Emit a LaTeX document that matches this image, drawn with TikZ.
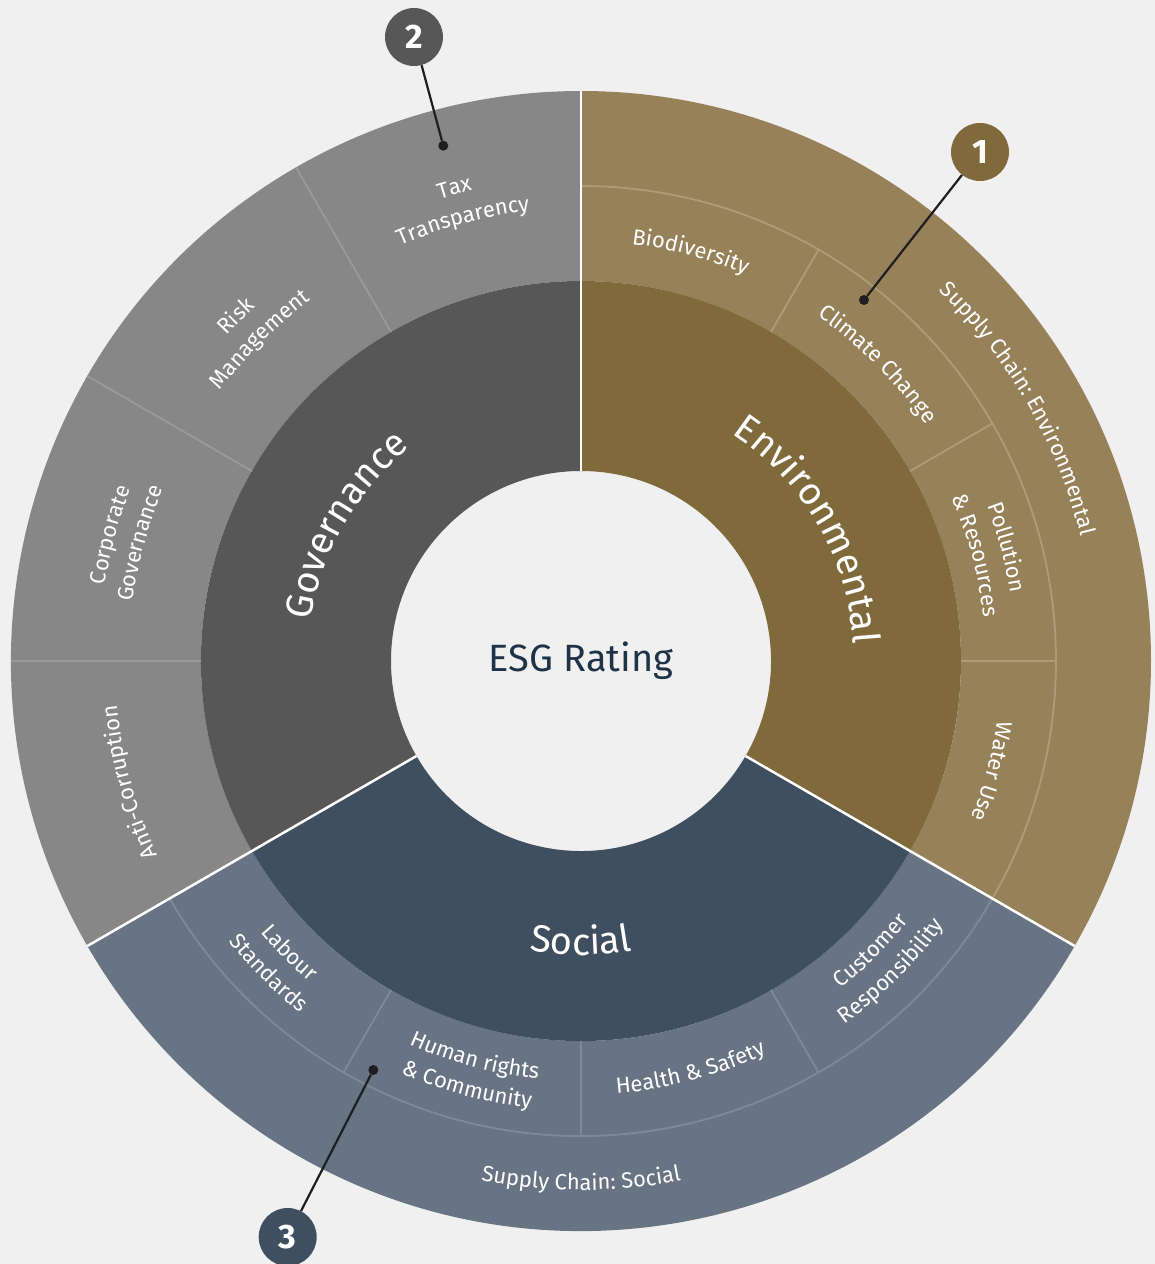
\documentclass[tikz,border=0pt]{standalone}
\usepackage{fontspec}
\setmainfont{Fira Sans}
\usetikzlibrary{decorations.text}
\definecolor{bgc}{HTML}{F0F0F0}
\definecolor{govD}{HTML}{575757}
\definecolor{govL}{HTML}{878787}
\definecolor{envD}{HTML}{806A3C}
\definecolor{envL}{HTML}{978159}
\definecolor{socD}{HTML}{404F60}
\definecolor{socL}{HTML}{687384}
\definecolor{govLine}{HTML}{9A9A9A}
\definecolor{envLine}{HTML}{AE9B78}
\definecolor{socLine}{HTML}{7F8998}
\definecolor{centerc}{HTML}{1E3347}
\definecolor{lineK}{HTML}{1E1E1E}
\newcommand\annsec[5]{\fill[#5] (#1:#3) arc[start angle=#1,end angle=#2,radius=#3] -- (#2:#4) arc[start angle=#2,end angle=#1,radius=#4] -- cycle;}
\newcommand\ringtext[5]{\path[decorate,decoration={text along path,text align=center,text={|#4|#5}}] (#2:#1) arc[start angle=#2,end angle=#3,radius=#1];}
\newcommand\smallf{\fontsize{22}{26}\selectfont\color{white}}
\newcommand\bigf{\fontsize{38}{44}\selectfont\color{white}}
\tikzset{
  badge/.style={circle,minimum size=58pt,inner sep=0pt,text=white,font=\fontsize{34}{34}\selectfont\bfseries},
  dotc/.style={circle,fill=lineK,minimum size=10pt,inner sep=0pt},
  conn/.style={draw=lineK,line width=2.2pt},
  sepline/.style={draw=white,line width=2.5pt},
  govsep/.style={draw=govLine,line width=1.8pt},
  envsep/.style={draw=envLine,line width=1.8pt},
  socsep/.style={draw=socLine,line width=1.8pt}
}
\begin{document}
\begin{tikzpicture}[x=1pt,y=1pt]
\fill[bgc] (-581,-603) rectangle (574,661);
\useasboundingbox (-581,-603) rectangle (574,661);
% outer rings
\annsec{90}{210}{380pt}{570pt}{govL}
\annsec{-30}{90}{380pt}{570pt}{envL}
\annsec{-150}{-30}{380pt}{570pt}{socL}
% middle ring
\annsec{90}{210}{190pt}{380pt}{govD}
\annsec{-30}{90}{190pt}{380pt}{envD}
\annsec{-150}{-30}{190pt}{380pt}{socD}
% light dividers
\foreach \a in {120,150,180} {\draw[govsep] (\a:380pt) -- (\a:570pt);}
\foreach \a in {60,30,0} {\draw[envsep] (\a:380pt) -- (\a:475pt);}
\draw[envsep] (90:475pt) arc[start angle=90,end angle=-30,radius=475pt];
\foreach \a in {-60,-90,-120} {\draw[socsep] (\a:380pt) -- (\a:475pt);}
\draw[socsep] (-30:475pt) arc[start angle=-30,end angle=-150,radius=475pt];
% white separators
\foreach \a in {90,-30,210} {\draw[sepline] (\a:190pt) -- (\a:570pt);}
% centre
\node[font=\fontsize{38}{44}\selectfont,text=centerc] (esg) at (0,0) {ESG Rating};
% main labels
\ringtext{273pt}{210}{90}{\bigf}{Governance}
\ringtext{273pt}{90}{-30}{\bigf}{Environmental}
\ringtext{294pt}{-150}{-30}{\bigf}{Social}
% governance
\ringtext{483pt}{120}{90}{\smallf}{Tax}
\ringtext{453pt}{120}{90}{\smallf}{Transparency}
\ringtext{481pt}{150}{120}{\smallf}{Risk}
\ringtext{451pt}{150}{120}{\smallf}{Management}
\ringtext{482pt}{180}{150}{\smallf}{Corporate}
\ringtext{452pt}{180}{150}{\smallf}{Governance}
\ringtext{466pt}{210}{180}{\smallf}{Anti-Corruption}
% environmental
\ringtext{420pt}{90}{60}{\smallf}{Biodiversity}
\ringtext{418pt}{60}{30}{\smallf}{Climate Change}
\ringtext{435pt}{30}{0}{\smallf}{Pollution}
\ringtext{405pt}{30}{0}{\smallf}{{\&} Resources}
\ringtext{421pt}{0}{-30}{\smallf}{Water Use}
\ringtext{515pt}{90}{-30}{\smallf}{Supply Chain: Environmental}
% social
\ringtext{420pt}{-150}{-120}{\smallf}{Labour}
\ringtext{450pt}{-150}{-120}{\smallf}{Standards}
\ringtext{420pt}{-120}{-90}{\smallf}{Human rights}
\ringtext{450pt}{-120}{-90}{\smallf}{{\&} Community}
\ringtext{434pt}{-90}{-60}{\smallf}{Health {\&} Safety}
\ringtext{418pt}{-60}{-30}{\smallf}{Customer}
\ringtext{449pt}{-60}{-30}{\smallf}{Responsibility}
\ringtext{529pt}{-150}{-30}{\smallf}{Supply Chain: Social}
% callouts
\node[dotc] (d1) at (283,361) {};
\node[dotc] (d2) at (-137.7,515.3) {};
\node[dotc] (d3) at (-207.7,-409) {};
\node[badge,fill=envD] (b1) at (399,509) {1};
\node[badge,fill=govD] (b2) at (-167,624) {2};
\node[badge,fill=socD] (b3) at (-293.3,-576) {3};
\draw[conn] (b1) -- (d1);
\draw[conn] (b2) -- (d2);
\draw[conn] (b3) -- (d3);
\end{tikzpicture}
\end{document}
